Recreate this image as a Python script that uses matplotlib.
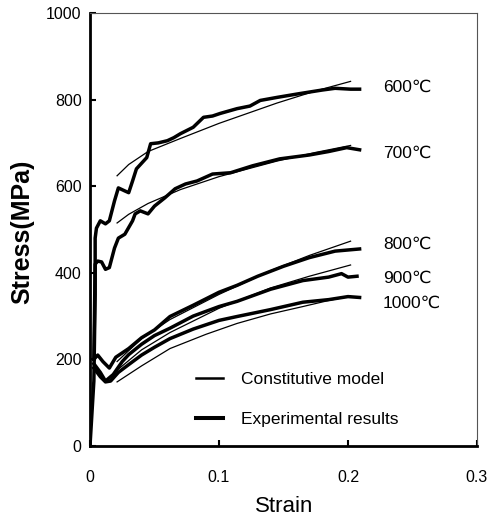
import matplotlib
matplotlib.use("Agg")
import matplotlib.pyplot as plt
from matplotlib.lines import Line2D

plt.rcParams['font.family'] = ['Liberation Sans', 'DejaVu Sans']

# experimental curves (strain, stress MPa)
exp_600_x = [0.000, 0.003, 0.004, 0.004, 0.005, 0.008, 0.012, 0.015, 0.019, 0.022, 0.027, 0.030,
             0.033, 0.036, 0.044, 0.047, 0.053, 0.060, 0.065, 0.070, 0.080, 0.088, 0.095, 0.101,
             0.114, 0.124, 0.132, 0.145, 0.163, 0.180, 0.190, 0.202, 0.209]
exp_600_y = [0, 150, 350, 480, 503, 520, 513, 520, 566, 596, 589, 585,
             612, 640, 666, 698, 700, 705, 712, 721, 736, 759, 762, 768,
             779, 785, 798, 805, 814, 822, 826, 824, 824]

exp_700_x = [0.003, 0.004, 0.006, 0.009, 0.012, 0.015, 0.019, 0.022, 0.027, 0.033, 0.035, 0.039,
             0.045, 0.050, 0.058, 0.066, 0.074, 0.083, 0.095, 0.109, 0.126, 0.147, 0.170, 0.185,
             0.199, 0.209]
exp_700_y = [200, 420, 427, 425, 408, 412, 457, 480, 489, 520, 536, 543,
             536, 554, 573, 594, 605, 612, 628, 631, 647, 663, 672, 680,
             689, 684]

exp_800_x = [0.003, 0.006, 0.010, 0.015, 0.020, 0.025, 0.030, 0.040, 0.050, 0.062, 0.080, 0.100,
             0.114, 0.130, 0.150, 0.170, 0.190, 0.209]
exp_800_y = [200, 210, 195, 180, 205, 215, 225, 250, 268, 299, 325, 355,
             371, 392, 415, 435, 450, 455]

exp_900_x = [0.003, 0.008, 0.012, 0.018, 0.025, 0.030, 0.040, 0.050, 0.062, 0.080, 0.100, 0.114,
             0.140, 0.165, 0.185, 0.195, 0.200, 0.207]
exp_900_y = [190, 170, 150, 165, 195, 211, 235, 255, 272, 300, 322, 334,
             362, 382, 390, 398, 390, 392]

exp_1000_x = [0.003, 0.008, 0.012, 0.016, 0.022, 0.030, 0.040, 0.050, 0.062, 0.080, 0.100, 0.114,
              0.140, 0.165, 0.185, 0.200, 0.209]
exp_1000_y = [180, 160, 148, 150, 170, 188, 210, 228, 248, 270, 290, 299,
              315, 332, 338, 345, 343]

# constitutive model curves
mod_600_x = [0.021, 0.030, 0.045, 0.070, 0.100, 0.145, 0.175, 0.202]
mod_600_y = [624, 650, 680, 710, 745, 792, 820, 842]
mod_700_x = [0.021, 0.030, 0.045, 0.070, 0.100, 0.145, 0.175, 0.202]
mod_700_y = [515, 535, 560, 592, 622, 658, 678, 694]
mod_800_x = [0.021, 0.040, 0.062, 0.100, 0.140, 0.170, 0.202]
mod_800_y = [195, 248, 292, 350, 405, 440, 473]
mod_900_x = [0.021, 0.040, 0.062, 0.100, 0.140, 0.170, 0.202]
mod_900_y = [175, 222, 262, 318, 365, 392, 418]
mod_1000_x = [0.021, 0.040, 0.062, 0.090, 0.114, 0.140, 0.165, 0.185, 0.202]
mod_1000_y = [148, 185, 225, 258, 283, 305, 322, 336, 346]

temp_labels = ["600℃", "700℃", "800℃", "900℃", "1000℃"]
temp_label_y = [828, 675, 466, 387, 329]

fig = plt.figure(figsize=(4.95, 5.18), dpi=100)
ax = fig.add_axes([0.1818, 0.139, 0.7818, 0.836])

for x, y in [(exp_600_x, exp_600_y), (exp_700_x, exp_700_y), (exp_800_x, exp_800_y),
             (exp_900_x, exp_900_y), (exp_1000_x, exp_1000_y)]:
    ax.plot(x, y, color='black', lw=2.5, solid_joinstyle='round')
for x, y in [(mod_600_x, mod_600_y), (mod_700_x, mod_700_y), (mod_800_x, mod_800_y),
             (mod_900_x, mod_900_y), (mod_1000_x, mod_1000_y)]:
    ax.plot(x, y, color='black', lw=0.9)

for lab, yy in zip(temp_labels, temp_label_y):
    ax.text(0.227, yy, lab, fontsize=12.5, va='center', ha='left')

ax.set_xlim(0, 0.3)
ax.set_ylim(0, 1000)
ax.set_xticks([0, 0.1, 0.2, 0.3])
ax.set_xticklabels(['0', '0.1', '0.2', '0.3'])
ax.set_yticks([0, 200, 400, 600, 800, 1000])
ax.tick_params(direction='in', length=4, width=1.5, labelsize=11.5)
ax.tick_params(axis='x', pad=17)
ax.tick_params(axis='y', pad=6)

for s in ['left', 'bottom']:
    ax.spines[s].set_linewidth(2.0)
for s in ['top', 'right']:
    ax.spines[s].set_linewidth(0.8)
    ax.spines[s].set_color('#555555')

handles = [Line2D([], [], color='black', lw=1.8), Line2D([], [], color='black', lw=2.9)]
ax.legend(handles, ['Constitutive model', 'Experimental results'], loc='upper left',
          bbox_to_anchor=(0.273, 0.172), frameon=False, fontsize=12.5, labelspacing=1.45,
          handlelength=1.6, handletextpad=1.0, borderpad=0, borderaxespad=0)

fig.text(22 / 495, 1 - 232 / 518, 'Stress(MPa)', rotation=90, fontsize=18,
         fontweight='bold', ha='center', va='center')
fig.text(284 / 495, 1 - 506 / 518, 'Strain', fontsize=16, ha='center', va='center')

fig.savefig('out.png', dpi=100)
